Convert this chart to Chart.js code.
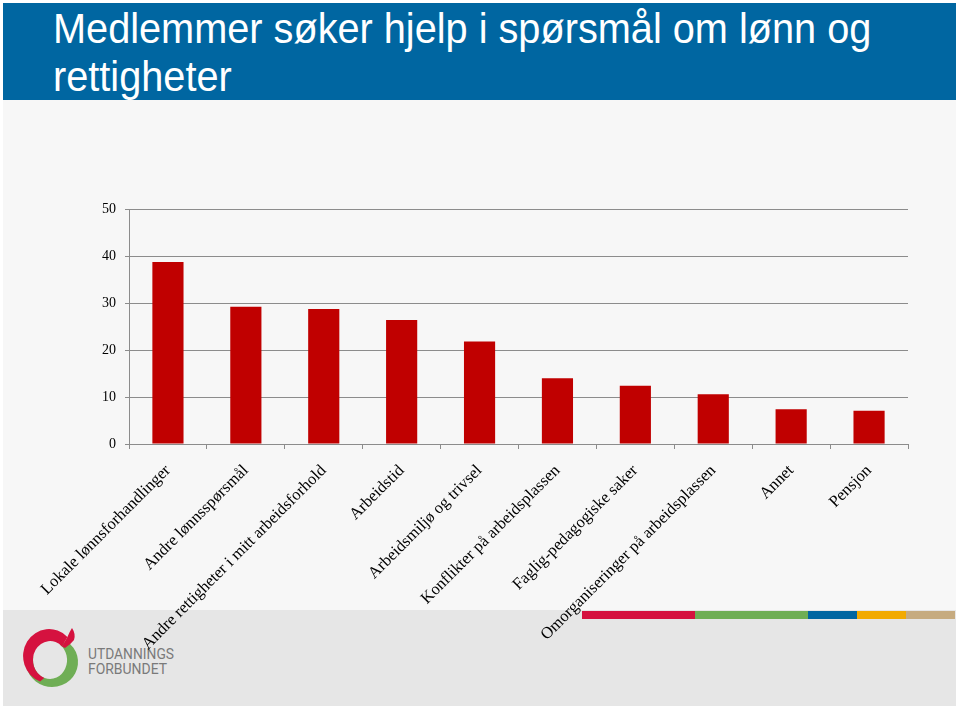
<!DOCTYPE html>
<html>
<head>
<meta charset="utf-8">
<script src="https://cdn.jsdelivr.net/npm/chart.js@4/dist/chart.umd.min.js"></script>
<style>
  html, body { margin: 0; padding: 0; }
  body { width: 960px; height: 709px; position: relative; background: #ffffff; overflow: hidden; }
  #bg { position: absolute; left: 3px; top: 100px; width: 953px; height: 510px; background: #f7f7f7; }
  #band { position: absolute; left: 3px; top: 610px; width: 953px; height: 96px; background: #e6e6e6; }
  #banner { position: absolute; left: 3px; top: 3px; width: 953px; height: 97px; background: #0066a1; }
  #title { position: absolute; left: 53px; top: 5px; color: #ffffff; font-family: "Liberation Sans", Arial, sans-serif; font-size: 42px; line-height: 48px; white-space: nowrap; transform: scaleX(0.945); transform-origin: 0 0; }
  .stripe { position: absolute; top: 611px; height: 8px; }
  #logo { position: absolute; left: 15px; top: 622px; }
  #chartwrap { position: absolute; left: 0; top: 100px; width: 960px; height: 609px; }
</style>
</head>
<body>
<div id="bg"></div>
<div id="band"></div>
<div id="banner"></div>
<div id="title">Medlemmer søker hjelp i spørsmål om lønn og<br>rettigheter</div>
<div class="stripe" style="left:582px;width:113px;background:#d5123f"></div>
<div class="stripe" style="left:695px;width:113px;background:#6fae55"></div>
<div class="stripe" style="left:808px;width:49px;background:#0066a1"></div>
<div class="stripe" style="left:857px;width:49px;background:#f2aa00"></div>
<div class="stripe" style="left:906px;width:49px;background:#c6ab80"></div>
<svg id="logo" width="170" height="72" viewBox="0 0 170 72">
  <path d="M 11.4 35.7 A 26 25 0 1 0 51.9 19.5 L 44.75 22.4 A 17 19 0 1 1 18.3 34.7 Z" fill="#6fae55"/>
  <path d="M 52.4 14.9 A 26 27 0 1 0 25.1 59.4 L 29.2 55.9 A 17 19 0 1 1 47.0 24.6 Z" fill="#d5123f"/>
  <path d="M 47 24.6 L 52.4 14.9 Q 55 9 57 6 Q 61 12 59 18 Q 56 22 50 26 Z" fill="#d5123f"/>
  <text x="73" y="37" font-family="Roboto, 'Liberation Sans', sans-serif" font-size="15" fill="#7a7a7a" textLength="86" lengthAdjust="spacingAndGlyphs">UTDANNINGS</text>
  <text x="73" y="52" font-family="Roboto, 'Liberation Sans', sans-serif" font-size="15" fill="#7a7a7a" textLength="79" lengthAdjust="spacingAndGlyphs">FORBUNDET</text>
</svg>
<div id="chartwrap"><canvas id="c" width="960" height="609"></canvas></div>
<script>
const categories = [
  "Lokale lønnsforhandlinger",
  "Andre lønnsspørsmål",
  "Andre rettigheter i mitt arbeidsforhold",
  "Arbeidstid",
  "Arbeidsmiljø og trivsel",
  "Konflikter på arbeidsplassen",
  "Faglig-pedagogiske saker",
  "Omorganiseringer på arbeidsplassen",
  "Annet",
  "Pensjon"
];
const values = [38.7, 29.2, 28.7, 26.4, 21.8, 14.0, 12.4, 10.6, 7.4, 7.1];
const yMin = 0;
const yMax = 50;
const yStep = 10;

const gridColor = '#8c8c8c';

new Chart(document.getElementById('c'), {
  type: 'bar',
  data: {
    labels: categories,
    datasets: [{
      data: values,
      backgroundColor: '#c00000',
      borderWidth: 0,
      barPercentage: 0.4,
      categoryPercentage: 1.0
    }]
  },
  options: {
    responsive: false,
    animation: false,
    layout: { padding: { top: 109, right: 52, left: 0, bottom: 0 } },
    plugins: { legend: { display: false }, tooltip: { enabled: false }, title: { display: false } },
    scales: {
      x: {
        afterFit: (s) => { s.height = 265; },
        grid: { display: true, drawOnChartArea: false, drawTicks: true, tickLength: 5, offset: true, color: gridColor },
        border: { display: true, color: gridColor, width: 1 },
        ticks: {
          minRotation: 45, maxRotation: 45, autoSkip: false, padding: 12,
          color: '#000000',
          font: { family: '"Liberation Serif", "DejaVu Serif", serif', size: 16.5 }
        }
      },
      y: {
        min: yMin, max: yMax,
        afterFit: (s) => { s.width = 129; },
        grid: { color: gridColor, lineWidth: 1, drawTicks: true, tickLength: 4 },
        border: { display: true, color: gridColor, width: 1 },
        ticks: {
          stepSize: yStep, padding: 9, color: '#000000',
          font: { family: '"Liberation Serif", "DejaVu Serif", serif', size: 14 }
        }
      }
    }
  }
});
</script>
</body>
</html>
